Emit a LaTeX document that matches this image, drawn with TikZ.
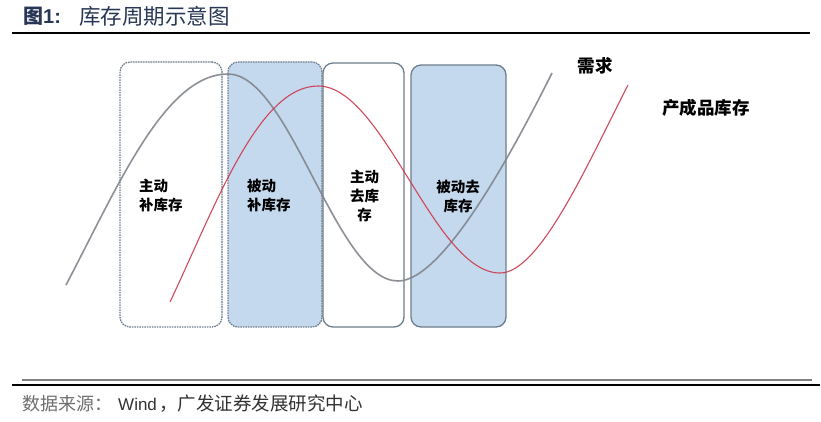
\documentclass[tikz,border=0pt]{standalone}
\usepackage{fontspec}
\setmainfont{Liberation Sans}
\newfontfamily\cjk{Noto Sans CJK SC}
\definecolor{titlecol}{RGB}{40,55,85}
\definecolor{demandcol}{RGB}{128,132,140}
\definecolor{stockcol}{RGB}{205,55,75}
\definecolor{boxline}{RGB}{110,125,140}
\definecolor{boxfill}{RGB}{197,217,238}
\definecolor{srccol}{RGB}{50,50,50}
\definecolor{srclight}{RGB}{110,110,110}
\tikzset{
  phasebox/.style={rectangle, rounded corners=10pt, draw=boxline, line width=1.3pt, inner sep=0pt},
  dottedbox/.style={phasebox, dash pattern=on 1.6pt off 0.9pt, draw=boxline},
  bluebox/.style={fill=boxfill},
  boxlabel/.style={inner sep=0pt, font=\cjk\bfseries\fontsize{14.5}{19}\selectfont, text=black},
  curvelabel/.style={inner sep=0pt, font=\cjk\bfseries\fontsize{17.5}{21}\selectfont, text=black},
  demand/.style={draw=demandcol, line width=1.6pt, draw opacity=0.9},
  stock/.style={draw=stockcol, line width=1.1pt, draw opacity=0.9}
}
\begin{document}
\begin{tikzpicture}[x=1pt,y=-1pt]
\useasboundingbox (0,0) rectangle (821,421);
\fill[white] (0,0) rectangle (821,421);
% title
\node[inner sep=0pt, anchor=west, text=titlecol, font=\fontsize{20}{22}\selectfont] (t1) at (23,16.5) {{\cjk\bfseries 图}\textbf{1}\textbf{:}};
\node[inner sep=0pt, anchor=west, text=titlecol, font=\cjk\fontsize{21.5}{24}\selectfont] (t2) at (79,16.5) {库存周期示意图};
\coordinate (r1a) at (12,33);
\coordinate (r1b) at (810,33);
\draw[line width=1.5pt, black] (r1a) -- (r1b);
% boxes
\node[dottedbox, minimum width=102pt, minimum height=265pt] (b1) at (171,194.5) {};
\node[dottedbox, bluebox, minimum width=94pt, minimum height=265pt] (b2) at (275,194.5) {};
\node[phasebox, minimum width=81pt, minimum height=264pt] (b3) at (363.5,195) {};
\node[phasebox, bluebox, minimum width=95pt, minimum height=262pt] (b4) at (458.5,196) {};
% curves
\draw[demand] (66,285) .. controls (118,186) and (165,74) .. (228,74)
  .. controls (290,74) and (336,281) .. (398,281)
  .. controls (443,281) and (512,153) .. (552,73);
\draw[stock] (170,302) .. controls (215,207) and (258,86) .. (318,86)
  .. controls (384,86) and (434,273) .. (500,273)
  .. controls (540,273) and (588,163) .. (628,85);
% box labels
\node[boxlabel, align=left, anchor=west] (l1) at (139,195.5) {主动\\补库存};
\node[boxlabel, align=left, anchor=west] (l2) at (247,195.5) {被动\\补库存};
\node[boxlabel, align=center] (l3) at (364.5,195.5) {主动\\去库\\存};
\node[boxlabel, align=center] (l4) at (458,196) {被动去\\库存};
% curve labels
\node[curvelabel] (dl) at (595,66) {需求};
\node[curvelabel] (sl) at (706,108) {产成品库存};
% bottom rules
\coordinate (r2a) at (22,380);
\coordinate (r2b) at (812,380);
\coordinate (r3a) at (12,385);
\coordinate (r3b) at (820,385);
\draw[line width=1.5pt, black!50] (r2a) -- (r2b);
\draw[line width=1.3pt, black] (r3a) -- (r3b);
% source
\node[inner sep=0pt, anchor=west, text=srclight, font=\cjk\fontsize{18}{20}\selectfont] (s1) at (22,404) {数据来源：};
\node[inner sep=0pt, anchor=west, text=srccol, font=\fontsize{17}{20}\selectfont] (s2) at (118,404) {Wind};
\node[inner sep=0pt, anchor=west, text=srccol, font=\cjk\fontsize{18.5}{20}\selectfont] (s3) at (159,404) {，广发证券发展研究中心};
\end{tikzpicture}
\end{document}
